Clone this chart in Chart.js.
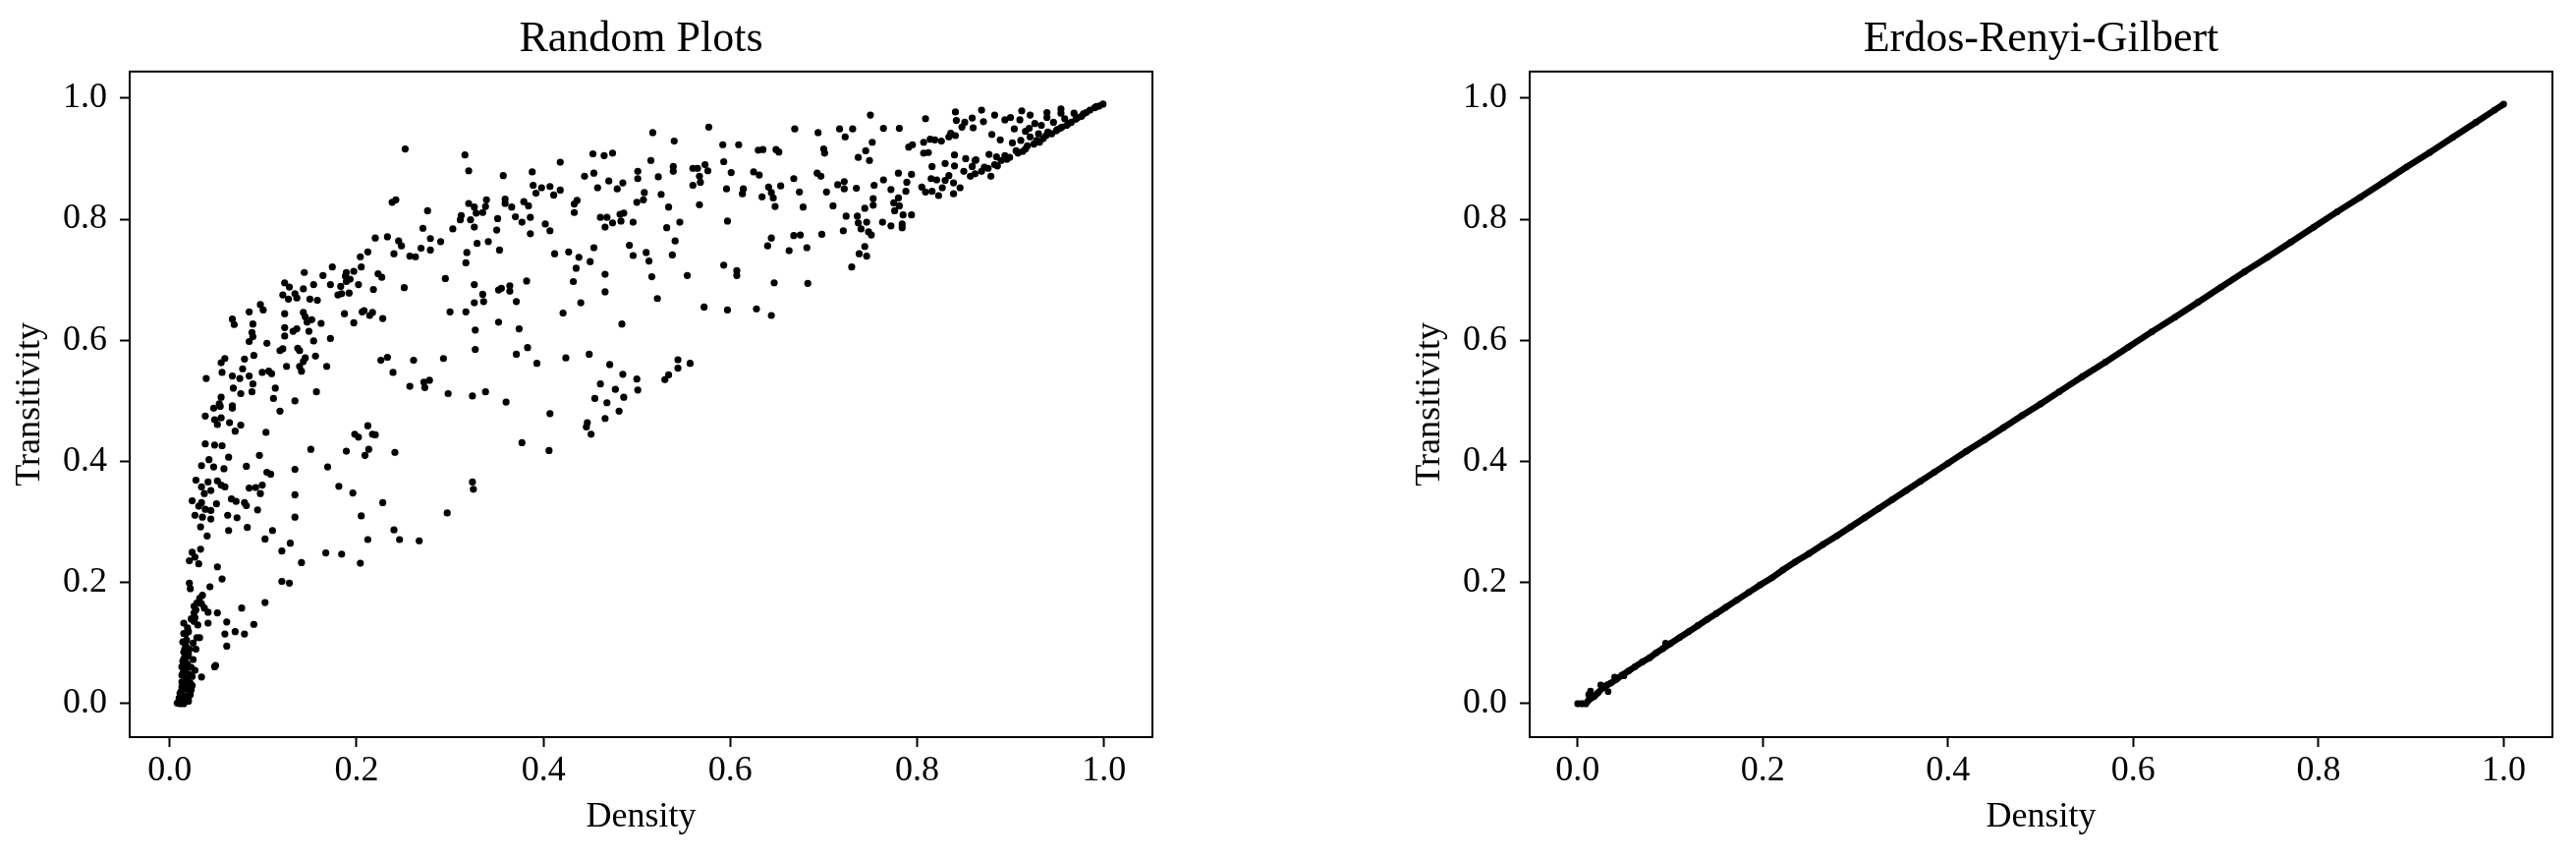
<!DOCTYPE html>
<html>
<head>
<meta charset="utf-8">
<title>Random Plots / Erdos-Renyi-Gilbert</title>
<script src="https://cdn.jsdelivr.net/npm/chart.js@4.4.1/dist/chart.umd.min.js"></script>
<style>
  html, body { margin: 0; padding: 0; background: #fff; }
  .panel { position: absolute; top: 0; }
  #left-panel { left: 0; }
  #right-panel { left: 1311px; }
</style>
</head>
<body>
<div class="panel" id="left-panel"><canvas id="randomChart" width="1311" height="873"></canvas></div>
<div class="panel" id="right-panel"><canvas id="ergChart" width="1311" height="873"></canvas></div>
<script>
// Tick values (both panels)
const xTicks = [0, 0.2, 0.4, 0.6, 0.8, 1.0];
const yTicks = [0, 0.2, 0.4, 0.6, 0.8, 1.0];

// Random Plots: [density, transitivity]
const randomUpper = [
  [0.252,0.916],[0.316,0.906],[0.320,0.880],[0.357,0.872],[0.388,0.878],[0.418,0.894],[0.453,0.908],[0.465,0.905],
  [0.474,0.909],[0.444,0.871],[0.454,0.876],[0.501,0.879],[0.501,0.867],[0.470,0.863],[0.485,0.860],[0.458,0.852],
  [0.479,0.850],[0.389,0.856],[0.398,0.852],[0.407,0.854],[0.418,0.848],[0.392,0.843],[0.411,0.840],[0.500,0.828],
  [0.436,0.831],[0.433,0.825],[0.433,0.811],[0.359,0.833],[0.359,0.826],[0.366,0.820],[0.379,0.829],[0.384,0.822],
  [0.370,0.804],[0.386,0.803],[0.377,0.795],[0.386,0.776],[0.339,0.832],[0.338,0.821],[0.320,0.826],[0.326,0.820],
  [0.335,0.811],[0.328,0.810],[0.312,0.806],[0.322,0.799],[0.311,0.799],[0.326,0.787],[0.351,0.801],[0.350,0.782],
  [0.353,0.749],[0.341,0.763],[0.329,0.760],[0.318,0.745],[0.317,0.728],[0.303,0.784],[0.402,0.792],[0.407,0.781],
  [0.461,0.803],[0.468,0.803],[0.474,0.794],[0.466,0.787],[0.482,0.808],[0.486,0.810],[0.483,0.797],[0.496,0.795],
  [0.492,0.757],[0.496,0.740],[0.454,0.753],[0.450,0.730],[0.438,0.737],[0.427,0.746],[0.412,0.743],[0.435,0.719],
  [0.432,0.697],[0.466,0.709],[0.466,0.680],[0.440,0.662],[0.421,0.645],[0.484,0.627],[0.382,0.698],[0.364,0.690],
  [0.364,0.681],[0.352,0.683],[0.355,0.686],[0.371,0.664],[0.326,0.692],[0.335,0.676],[0.336,0.664],[0.326,0.662],
  [0.317,0.647],[0.300,0.647],[0.295,0.702],[0.352,0.630],[0.374,0.619],[0.327,0.617],[0.327,0.585],[0.383,0.588],
  [0.371,0.577],[0.393,0.562],[0.424,0.571],[0.449,0.577],[0.471,0.560],[0.485,0.544],[0.500,0.536],[0.501,0.518],
  [0.461,0.528],[0.477,0.519],[0.486,0.506],[0.455,0.504],[0.468,0.497],[0.360,0.498],[0.338,0.515],[0.324,0.508],
  [0.298,0.512],[0.293,0.570],[0.261,0.567],[0.257,0.524],[0.272,0.531],[0.278,0.534],[0.273,0.522],[0.233,0.572],
  [0.226,0.567],[0.239,0.547],[0.251,0.687],[0.276,0.814],[0.271,0.785],[0.279,0.768],[0.290,0.763],[0.279,0.749],
  [0.269,0.752],[0.257,0.739],[0.263,0.738],[0.240,0.743],[0.245,0.764],[0.248,0.756],[0.233,0.771],[0.220,0.769],
  [0.238,0.828],[0.242,0.832],[0.212,0.746],[0.204,0.738],[0.205,0.721],[0.197,0.714],[0.189,0.712],[0.188,0.706],
  [0.193,0.701],[0.202,0.692],[0.189,0.697],[0.183,0.689],[0.180,0.675],[0.184,0.677],[0.192,0.678],[0.174,0.721],
  [0.164,0.707],[0.172,0.692],[0.154,0.692],[0.144,0.712],[0.223,0.710],[0.227,0.704],[0.218,0.684],[0.143,0.685],
  [0.150,0.668],[0.158,0.666],[0.123,0.695],[0.128,0.688],[0.121,0.675],[0.127,0.668],[0.134,0.677],[0.136,0.670],
  [0.097,0.659],[0.100,0.650],[0.085,0.647],[0.089,0.627],[0.088,0.613],[0.089,0.606],[0.085,0.598],[0.067,0.635],
  [0.069,0.626],[0.123,0.644],[0.143,0.646],[0.145,0.639],[0.152,0.634],[0.147,0.630],[0.162,0.628],[0.187,0.644],
  [0.197,0.629],[0.206,0.647],[0.208,0.649],[0.217,0.646],[0.214,0.641],[0.228,0.636],[0.123,0.621],[0.123,0.607],
  [0.132,0.615],[0.136,0.619],[0.149,0.615],[0.154,0.599],[0.172,0.603],[0.104,0.595],[0.118,0.583],[0.121,0.586],
  [0.137,0.587],[0.139,0.583],[0.156,0.574],[0.145,0.571],[0.143,0.565],[0.139,0.557],[0.141,0.549],[0.125,0.557],
  [0.168,0.557],[0.090,0.575],[0.080,0.569],[0.059,0.570],[0.055,0.563],[0.078,0.553],[0.056,0.547],[0.067,0.541],
  [0.075,0.537],[0.085,0.541],[0.089,0.528],[0.099,0.547],[0.106,0.549],[0.109,0.545],[0.039,0.537],[0.068,0.521],
  [0.076,0.512],[0.088,0.515],[0.113,0.521],[0.111,0.504],[0.134,0.500],[0.157,0.515],[0.055,0.506],[0.053,0.495],
  [0.067,0.492]
];

const randomRight = [
  [0.517,0.943],[0.577,0.952],[0.540,0.929],[0.515,0.897],[0.523,0.870],[0.526,0.841],[0.508,0.844],[0.507,0.832],
  [0.534,0.820],[0.539,0.887],[0.539,0.879],[0.560,0.884],[0.565,0.884],[0.573,0.890],[0.576,0.880],[0.567,0.871],
  [0.568,0.861],[0.560,0.856],[0.567,0.824],[0.592,0.923],[0.609,0.923],[0.593,0.895],[0.601,0.877],[0.596,0.850],
  [0.614,0.850],[0.613,0.842],[0.625,0.878],[0.631,0.873],[0.630,0.914],[0.635,0.915],[0.649,0.915],[0.652,0.911],
  [0.669,0.949],[0.694,0.943],[0.717,0.949],[0.731,0.949],[0.723,0.936],[0.750,0.972],[0.764,0.950],[0.781,0.950],
  [0.809,0.966],[0.700,0.916],[0.701,0.909],[0.752,0.927],[0.745,0.913],[0.737,0.902],[0.749,0.897],[0.668,0.867],
  [0.674,0.845],[0.654,0.855],[0.641,0.853],[0.644,0.844],[0.634,0.837],[0.646,0.835],[0.648,0.821],[0.678,0.820],
  [0.693,0.876],[0.697,0.871],[0.703,0.845],[0.710,0.822],[0.715,0.857],[0.722,0.862],[0.722,0.850],[0.735,0.851],
  [0.754,0.856],[0.764,0.865],[0.772,0.849],[0.780,0.876],[0.789,0.861],[0.794,0.874],[0.788,0.846],[0.753,0.834],
  [0.753,0.823],[0.780,0.835],[0.775,0.827],[0.776,0.814],[0.781,0.822],[0.785,0.807],[0.794,0.807],[0.744,0.818],
  [0.724,0.805],[0.736,0.805],[0.737,0.794],[0.746,0.795],[0.740,0.784],[0.748,0.779],[0.751,0.774],[0.763,0.795],
  [0.772,0.789],[0.784,0.792],[0.784,0.786],[0.721,0.781],[0.698,0.775],[0.744,0.755],[0.746,0.739],[0.738,0.743],
  [0.730,0.721],[0.668,0.773],[0.675,0.774],[0.644,0.769],[0.640,0.756],[0.663,0.748],[0.682,0.753],[0.597,0.797],
  [0.546,0.795],[0.532,0.786],[0.541,0.764],[0.538,0.741],[0.510,0.745],[0.513,0.731],[0.516,0.705],[0.522,0.669],
  [0.554,0.707],[0.593,0.724],[0.607,0.715],[0.607,0.707],[0.647,0.695],[0.683,0.694],[0.572,0.655],[0.597,0.650],
  [0.628,0.652],[0.644,0.641],[0.544,0.568],[0.544,0.554],[0.557,0.562],[0.534,0.543],[0.530,0.535]
];

const randomBand = [
  [0.841,0.977],[0.869,0.980],[0.883,0.972],[0.859,0.967],[0.842,0.963],[0.851,0.960],[0.871,0.961],[0.894,0.964],
  [0.900,0.968],[0.912,0.979],[0.921,0.972],[0.910,0.964],[0.939,0.976],[0.939,0.968],[0.954,0.982],[0.954,0.975],
  [0.848,0.952],[0.860,0.951],[0.904,0.949],[0.920,0.950],[0.880,0.940],[0.889,0.931],[0.902,0.926],[0.911,0.930],
  [0.921,0.936],[0.930,0.941],[0.940,0.944],[0.949,0.946],[0.960,0.955],[0.970,0.965],[0.981,0.976],[0.990,0.984],
  [0.999,0.990],[0.995,0.987],[0.976,0.970],[0.965,0.960],[0.955,0.952],[0.944,0.941],[0.935,0.933],[0.925,0.924],
  [0.916,0.916],[0.908,0.909],[0.899,0.902],[0.890,0.897],[0.883,0.890],[0.876,0.884],[0.869,0.879],[0.862,0.875],
  [0.857,0.871],[0.879,0.871],[0.886,0.888],[0.877,0.907],[0.885,0.903],[0.863,0.898],[0.872,0.886],[0.862,0.897],
  [0.852,0.900],[0.840,0.906],[0.840,0.888],[0.850,0.879],[0.859,0.887],[0.830,0.892],[0.816,0.887],[0.834,0.872],
  [0.830,0.864],[0.821,0.865],[0.815,0.867],[0.839,0.860],[0.846,0.852],[0.839,0.842],[0.827,0.852],[0.816,0.846],
  [0.823,0.839],[0.809,0.845],[0.805,0.853],[0.819,0.931],[0.814,0.932],[0.826,0.929],[0.807,0.927],[0.834,0.936],
  [0.841,0.938],[0.836,0.942],[0.791,0.919],[0.795,0.923],[0.807,0.909],[0.812,0.910],[0.985,0.980],[0.972,0.968],
  [0.962,0.958],[0.950,0.948],[0.938,0.938],[0.928,0.930],[0.918,0.921],[0.906,0.913],[0.894,0.905],[0.968,0.975],
  [0.958,0.966],[0.946,0.960],[0.933,0.955],[0.926,0.958],[0.916,0.945],[0.992,0.986],[0.978,0.974],[0.953,0.950],
  [0.931,0.927],[0.913,0.912],[0.896,0.899]
];

const randomLower = [
  [0.047,0.488],[0.054,0.491],[0.067,0.488],[0.038,0.475],[0.048,0.469],[0.051,0.461],[0.055,0.472],[0.064,0.464],
  [0.076,0.460],[0.070,0.450],[0.118,0.483],[0.103,0.448],[0.038,0.429],[0.048,0.427],[0.056,0.426],[0.063,0.407],
  [0.042,0.403],[0.034,0.393],[0.047,0.391],[0.058,0.388],[0.082,0.392],[0.096,0.410],[0.151,0.420],[0.189,0.417],
  [0.198,0.445],[0.202,0.440],[0.212,0.459],[0.217,0.445],[0.220,0.444],[0.213,0.420],[0.209,0.410],[0.241,0.415],
  [0.169,0.391],[0.134,0.387],[0.104,0.382],[0.108,0.379],[0.028,0.369],[0.041,0.366],[0.051,0.368],[0.055,0.361],
  [0.059,0.358],[0.034,0.358],[0.044,0.352],[0.037,0.347],[0.085,0.356],[0.092,0.357],[0.099,0.361],[0.097,0.347],
  [0.134,0.345],[0.181,0.359],[0.196,0.348],[0.228,0.332],[0.324,0.366],[0.325,0.354],[0.297,0.315],[0.377,0.431],
  [0.406,0.418],[0.407,0.479],[0.447,0.464],[0.446,0.457],[0.451,0.445],[0.466,0.471],[0.481,0.483],[0.024,0.335],
  [0.034,0.332],[0.031,0.326],[0.038,0.321],[0.044,0.319],[0.050,0.330],[0.027,0.311],[0.035,0.308],[0.044,0.305],
  [0.066,0.338],[0.071,0.334],[0.080,0.332],[0.082,0.327],[0.094,0.320],[0.062,0.311],[0.072,0.307],[0.033,0.292],
  [0.040,0.277],[0.063,0.286],[0.083,0.291],[0.110,0.286],[0.102,0.272],[0.134,0.308],[0.205,0.310],[0.240,0.287],
  [0.212,0.271],[0.246,0.271],[0.267,0.269],[0.033,0.255],[0.024,0.250],[0.021,0.236],[0.027,0.242],[0.031,0.231],
  [0.051,0.226],[0.056,0.206],[0.120,0.252],[0.129,0.265],[0.141,0.233],[0.167,0.249],[0.184,0.247],[0.204,0.232],
  [0.120,0.202],[0.128,0.199],[0.021,0.199],[0.022,0.190],[0.043,0.193],[0.035,0.179],[0.032,0.174],[0.029,0.166],
  [0.026,0.161],[0.037,0.158],[0.041,0.151],[0.051,0.150],[0.026,0.150],[0.027,0.142],[0.026,0.136],[0.077,0.158],
  [0.102,0.167],[0.061,0.135],[0.041,0.133],[0.015,0.133],[0.015,0.116],[0.020,0.119],[0.090,0.131],[0.070,0.119],
  [0.059,0.115],[0.080,0.115],[0.029,0.109],[0.032,0.109],[0.017,0.097],[0.061,0.095],[0.028,0.090],[0.015,0.085],
  [0.020,0.082],[0.015,0.074],[0.025,0.073],[0.049,0.063],[0.048,0.061],[0.013,0.061],[0.017,0.055],[0.027,0.055],
  [0.034,0.044],[0.013,0.047],[0.018,0.042],[0.024,0.045],[0.013,0.036],[0.022,0.034],[0.013,0.028],[0.018,0.024],
  [0.023,0.023],[0.011,0.017],[0.017,0.013],[0.020,0.009],[0.010,0.009],[0.008,0.001],[0.011,0.000],[0.015,0.000],
  [0.020,0.004],[0.012,0.006],[0.014,0.070],[0.016,0.090],[0.018,0.105],[0.014,0.050],[0.016,0.030],[0.019,0.065],
  [0.021,0.048],[0.019,0.078],[0.012,0.020],[0.016,0.004],[0.022,0.015],[0.014,0.102],[0.019,0.125],[0.023,0.060],
  [0.021,0.090],[0.025,0.100],[0.017,0.068],[0.013,0.012],[0.019,0.038],[0.024,0.030],[0.017,0.115],[0.023,0.140],
  [0.030,0.130],[0.028,0.155],[0.034,0.165]
];

// Erdos-Renyi-Gilbert: [density, transitivity], dense run of points along the diagonal
const ergPoints = [
  [0.000,0.000],[0.005,0.000],[0.009,0.000],[0.012,0.006],[0.018,0.012],[0.022,0.018],[0.027,0.026],[0.032,0.031],
  [0.036,0.034],[0.042,0.040],[0.048,0.047],[0.055,0.054],[0.062,0.061],[0.070,0.069],[0.078,0.076],[0.085,0.084],
  [0.092,0.091],[0.100,0.099],[0.110,0.109],[0.120,0.119],[0.130,0.129],[0.140,0.139],[0.150,0.149],[0.160,0.159],
  [0.172,0.171],[0.185,0.184],[0.197,0.196],[0.210,0.208],[0.222,0.221],[0.235,0.234],[0.250,0.248],[0.265,0.263],
  [0.280,0.277],[0.295,0.292],[0.310,0.307],[0.325,0.322],[0.340,0.337],[0.355,0.352],[0.370,0.367],[0.385,0.382],
  [0.400,0.397],[0.420,0.417],[0.440,0.436],[0.460,0.456],[0.480,0.476],[0.500,0.495],[0.520,0.515],[0.545,0.540],
  [0.570,0.564],[0.595,0.589],[0.620,0.614],[0.645,0.638],[0.670,0.663],[0.695,0.688],[0.720,0.713],[0.745,0.737],
  [0.770,0.762],[0.795,0.787],[0.820,0.812],[0.845,0.836],[0.870,0.861],[0.895,0.886],[0.920,0.910],[0.945,0.935],
  [0.970,0.960],[0.990,0.980],[1.000,0.990]
];
// a few points that sit just off the run near the origin
const ergStray = [
  [0.014,0.021],[0.012,0.015],[0.025,0.031],[0.033,0.020],[0.030,0.028],[0.040,0.044],[0.095,0.100],[0.050,0.046]
];

const SERIF = "'Liberation Serif', 'Times New Roman', Times, serif";
Chart.defaults.color = '#000';
Chart.defaults.font.family = SERIF;

const toXY = pts => pts.map(p => ({ x: p[0], y: p[1] }));

// full box round the plot area, drawn over the markers
const frameBox = {
  id: 'frameBox',
  afterDatasetsDraw(chart) {
    const { ctx, chartArea: a } = chart;
    ctx.save();
    ctx.strokeStyle = '#000';
    ctx.lineWidth = 2;
    ctx.strokeRect(a.left, a.top, a.right - a.left, a.bottom - a.top);
    ctx.restore();
  }
};

function buildScales(xMin, xMax) {
  const tickGrid = { drawOnChartArea: false, drawTicks: true, tickLength: 10, tickWidth: 2, tickColor: '#000' };
  return {
    x: {
      type: 'linear',
      min: xMin,
      max: xMax,
      afterBuildTicks: s => { s.ticks = xTicks.map(v => ({ value: v })); },
      afterFit: s => { s.height = 123; },
      grid: tickGrid,
      border: { display: false },
      ticks: { font: { size: 36 }, padding: 3, maxRotation: 0, callback: v => v.toFixed(1) },
      title: { display: true, text: 'Density', font: { size: 36 }, padding: { top: 0, bottom: 20 } }
    },
    y: {
      type: 'linear',
      min: -0.0552,
      max: 1.0438,
      afterBuildTicks: s => { s.ticks = yTicks.map(v => ({ value: v })); },
      afterFit: s => { s.width = 132; },
      grid: tickGrid,
      border: { display: false },
      ticks: { font: { size: 36 }, padding: 13, callback: v => v.toFixed(1) },
      title: { display: true, text: 'Transitivity', font: { size: 36 }, padding: { top: 9, bottom: 0 } }
    }
  };
}

function makeChart(canvasId, title, datasets, xMin, xMax, padLeft, padRight) {
  return new Chart(document.getElementById(canvasId), {
    type: 'scatter',
    data: { datasets },
    options: {
      responsive: false,
      animation: false,
      devicePixelRatio: 1,
      layout: { padding: { left: padLeft, right: padRight, top: 0, bottom: 0 } },
      scales: buildScales(xMin, xMax),
      plugins: {
        legend: { display: false },
        tooltip: { enabled: false },
        title: {
          display: true,
          text: title,
          fullSize: false,
          color: '#000',
          font: { size: 44, weight: 'normal' },
          padding: { top: 14, bottom: 6 }
        }
      }
    },
    plugins: [frameBox]
  });
}

const dotStyle = { pointRadius: 3.6, pointHoverRadius: 3.6, pointBackgroundColor: '#000', pointBorderWidth: 0 };

makeChart('randomChart', 'Random Plots', [{
  label: 'Random Plots',
  data: toXY([].concat(randomUpper, randomRight, randomBand, randomLower)),
  ...dotStyle
}], -0.0429, 1.0519, 0, 138);

makeChart('ergChart', 'Erdos-Renyi-Gilbert', [{
  label: 'Erdos-Renyi-Gilbert',
  data: toXY(ergPoints),
  showLine: true,
  borderColor: '#000',
  borderWidth: 6.5,
  tension: 0,
  ...dotStyle,
  pointRadius: 3.4
}, {
  label: 'Erdos-Renyi-Gilbert (off-line)',
  data: toXY(ergStray),
  ...dotStyle,
  pointRadius: 3.4
}], -0.0517, 1.0526, 114, 24);
</script>
</body>
</html>
